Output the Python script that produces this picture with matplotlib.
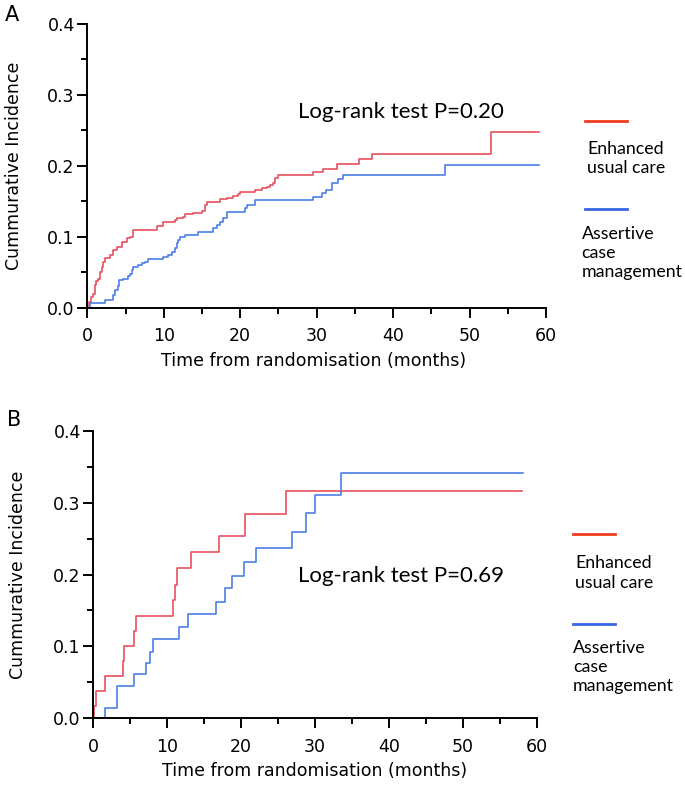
import matplotlib
matplotlib.use('Agg')
import matplotlib.pyplot as plt
from matplotlib.lines import Line2D
from matplotlib.ticker import MultipleLocator, FormatStrFormatter

plt.rcParams['font.family'] = ['DejaVu Sans']

# Panel A: event times (months) and cumulative incidence after each step
a_red_t = [0, 0.2, 0.5, 0.7, 1.0, 1.2, 1.44, 1.7, 1.88, 2.1, 2.3, 2.97, 3.4, 3.84, 4.5, 5.15,
           5.59, 6.02, 9.07, 9.94, 11.47, 11.7, 12.56, 12.78, 13.87, 14.96, 15.4, 15.6, 17.36,
           18.23, 19.1, 19.75, 19.97, 20.85, 21.9, 22.8, 23.5, 23.9, 24.3, 24.55, 25.0, 29.56,
           30.87, 32.7, 35.6, 37.3, 52.76, 59.1]
a_red_v = [0, 0.008, 0.015, 0.020, 0.032, 0.037, 0.041, 0.050, 0.058, 0.064, 0.070, 0.074, 0.081,
           0.086, 0.093, 0.098, 0.100, 0.110, 0.115, 0.121, 0.1235, 0.127, 0.128, 0.1315, 0.133,
           0.136, 0.145, 0.149, 0.153, 0.1545, 0.157, 0.160, 0.1625, 0.1635, 0.166, 0.169, 0.1705,
           0.173, 0.175, 0.182, 0.187, 0.1916, 0.196, 0.203, 0.209, 0.2165, 0.2475, 0.2475]

a_blue_t = [0, 0.35, 2.3, 3.4, 3.62, 4.06, 4.19, 4.71, 5.36, 5.59, 5.8, 6.02, 6.67, 7.11, 7.55,
            7.98, 9.94, 10.6, 11.04, 11.47, 11.7, 11.9, 12.13, 12.78, 14.5, 16.5, 16.9, 17.36,
            17.8, 18.23, 20.6, 20.85, 21.9, 29.56, 30.66, 31.2, 32.05, 32.8, 33.5, 46.8, 59.1]
a_blue_v = [0, 0.006, 0.011, 0.018, 0.025, 0.030, 0.039, 0.040, 0.044, 0.048, 0.053, 0.058, 0.060,
            0.0625, 0.065, 0.068, 0.072, 0.074, 0.079, 0.084, 0.091, 0.095, 0.100, 0.103, 0.107,
            0.112, 0.116, 0.121, 0.126, 0.135, 0.141, 0.145, 0.1517, 0.1555, 0.161, 0.166, 0.176,
            0.181, 0.187, 0.2005, 0.2005]

# Panel B
b_red_t = [0, 0.14, 0.37, 1.58, 4.06, 4.2, 5.55, 5.78, 10.83, 11.05, 11.28, 13.2, 17.05, 20.5,
           26.1, 58.0]
b_red_v = [0, 0.017, 0.0385, 0.0588, 0.0797, 0.101, 0.122, 0.142, 0.164, 0.185, 0.2086, 0.2318,
           0.254, 0.284, 0.316, 0.316]

b_blue_t = [0, 1.58, 3.16, 5.5, 7.13, 7.67, 8.12, 11.64, 12.86, 16.56, 17.82, 18.72, 20.4, 21.97,
            26.93, 28.8, 30.0, 33.5, 58.1]
b_blue_v = [0, 0.0139, 0.0454, 0.0612, 0.0774, 0.0927, 0.110, 0.1275, 0.1446, 0.162, 0.181, 0.198,
            0.217, 0.2364, 0.2596, 0.285, 0.3106, 0.3417, 0.3417]

p_texts = ['Log-rank test P=0.20', 'Log-rank test P=0.69']
group_names = ['Enhanced\nusual care', 'Assertive\ncase\nmanagement']
xlab = 'Time from randomisation (months)'
ylab = 'Cummurative Incidence'

red = '#E8505E'
blue = '#4D7FE6'
W, H = 685, 788
calibri_like = ['Lato', 'DejaVu Sans']

fig = plt.figure(figsize=(W / 100, H / 100), dpi=100)


def fx(px):
    return px / W


def fy(py):
    return 1 - py / H


axA = fig.add_axes([fx(87.3), fy(307.7), fx(546 - 87.3), (307.7 - 23.7) / H])
axB = fig.add_axes([fx(93.3), fy(718.3), fx(536.7 - 93.3), (718.3 - 430.7) / H])

panels = [(axA, a_red_t, a_red_v, a_blue_t, a_blue_v, p_texts[0], 27.6, 0.267),
          (axB, b_red_t, b_red_v, b_blue_t, b_blue_v, p_texts[1], 27.7, 0.1896)]

for ax, rt, rv, bt, bv, ptxt, px, py in panels:
    ax.step(rt, rv, where='post', color=red, lw=1.2)
    ax.step(bt, bv, where='post', color=blue, lw=1.2)
    ax.set_xlim(0, 60)
    ax.set_ylim(0, 0.4)
    for s in ['top', 'right']:
        ax.spines[s].set_visible(False)
    for s in ['left', 'bottom']:
        ax.spines[s].set_linewidth(1.4)
    ax.xaxis.set_major_locator(MultipleLocator(10))
    ax.xaxis.set_minor_locator(MultipleLocator(5))
    ax.yaxis.set_major_locator(MultipleLocator(0.1))
    ax.yaxis.set_minor_locator(MultipleLocator(0.05))
    ax.yaxis.set_major_formatter(FormatStrFormatter('%.1f'))
    ax.tick_params(which='major', length=7, width=1.4, labelsize=12.5)
    ax.tick_params(which='minor', length=4, width=1.4)
    ax.tick_params(axis='x', which='major', pad=7)
    ax.tick_params(axis='y', which='major', pad=2)
    ax.text(px, py, ptxt, fontsize=16, va='baseline', ha='left', family=calibri_like)
    ax.patch.set_alpha(0)

# axis titles
fig.text(fx(314), fy(361), xlab, fontsize=12.5, ha='center', va='center')
fig.text(fx(315), fy(771), xlab, fontsize=12.5, ha='center', va='center')
fig.text(fx(14), fy(166), ylab, fontsize=12.5, ha='center', va='center', rotation=90)
fig.text(fx(18), fy(575), ylab, fontsize=12.5, ha='center', va='center', rotation=90)

fig.text(fx(12), fy(15), 'A', fontsize=15, va='center', ha='center')
fig.text(fx(14), fy(420), 'B', fontsize=15, va='center', ha='center')

# legends
legend_pos = [(585, 627, 120.7, 209.3, 587, 581.7, 158.3, 253),
              (573, 615, 534.3, 624, 575, 573, 573, 667)]
for x0, x1, yr, yb, txr, txb, tyr, tyb in legend_pos:
    fig.add_artist(Line2D([fx(x0), fx(x1)], [fy(yr), fy(yr)], color='#F03C1E', lw=2))
    fig.add_artist(Line2D([fx(x0), fx(x1)], [fy(yb), fy(yb)], color='#3A66E6', lw=2))
    fig.text(fx(txr), fy(tyr), group_names[0], fontsize=12.8, va='center', ha='left',
             linespacing=1.25, family=calibri_like)
    fig.text(fx(txb), fy(tyb), group_names[1], fontsize=12.8, va='center', ha='left',
             linespacing=1.25, family=calibri_like)

fig.savefig('out.png', dpi=100)
